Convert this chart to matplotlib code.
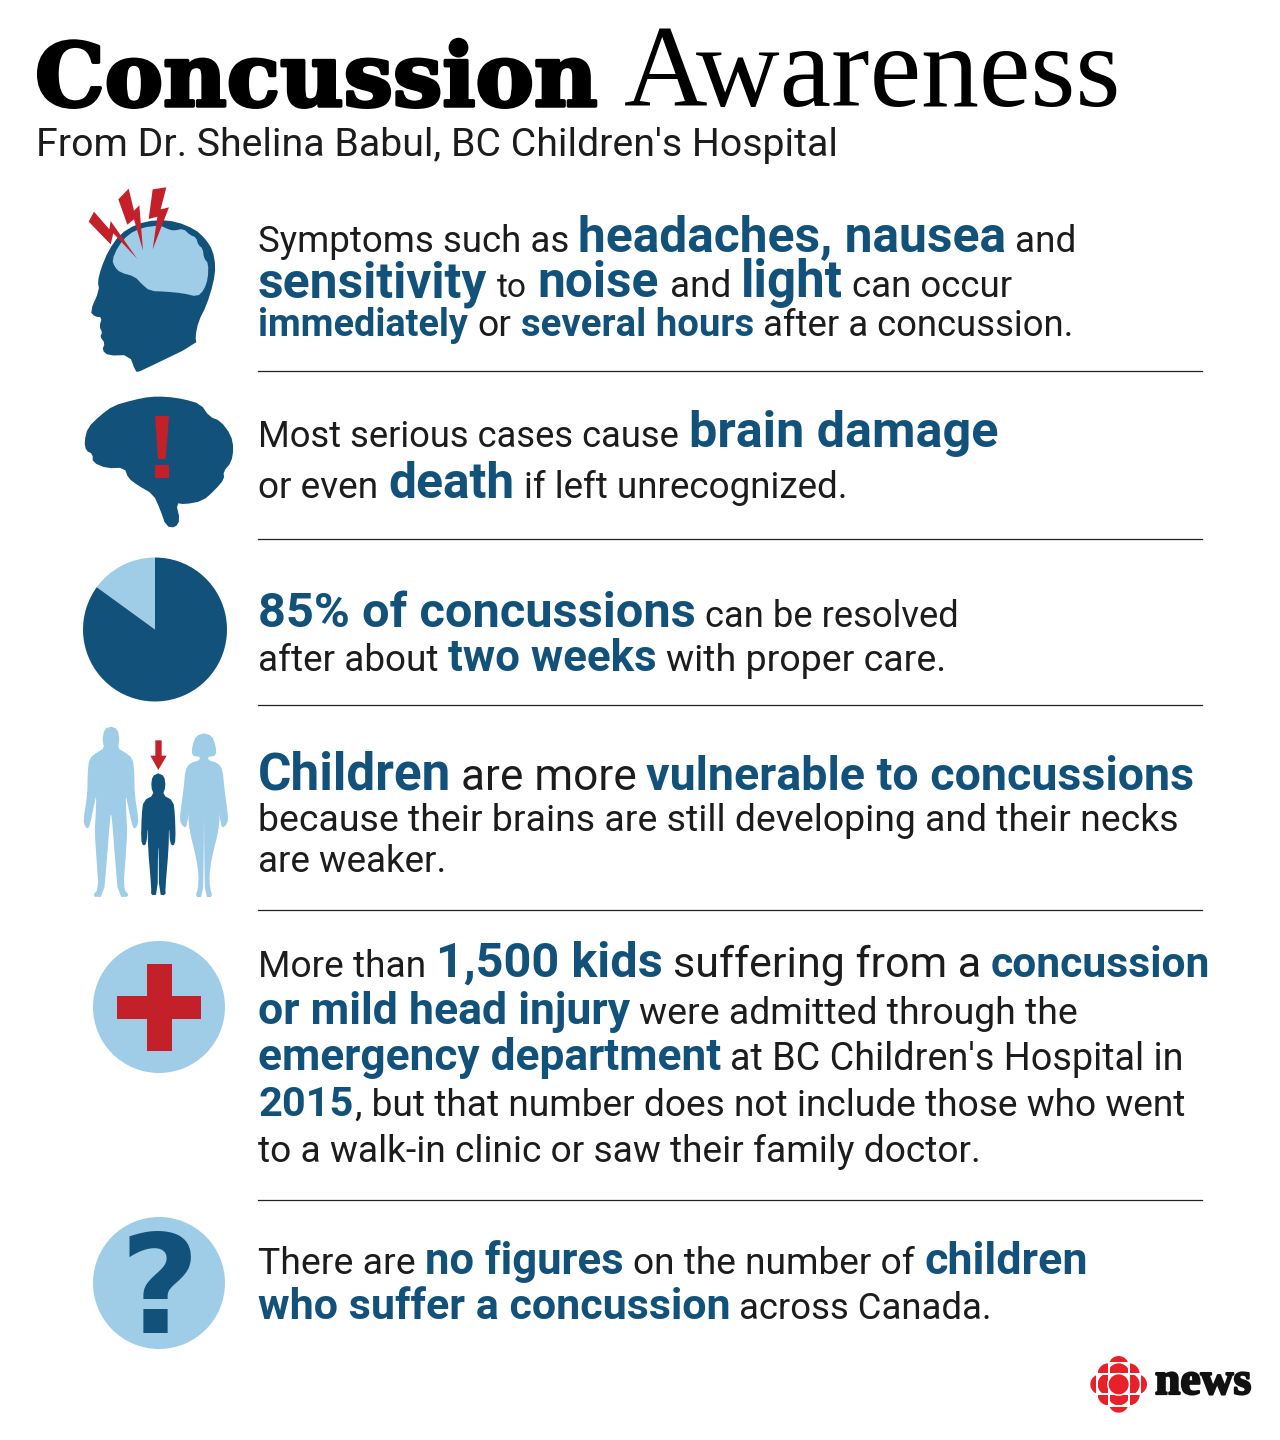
import matplotlib
matplotlib.use("Agg")
import matplotlib.pyplot as plt
import matplotlib.patheffects as pe
import numpy as np
from matplotlib.patches import Circle, Polygon, Rectangle

BLUE = "#12527a"
LIGHT = "#9fcde8"
RED = "#c4202a"
INK = "#1c1c1c"
GEM_RED = "#e8202a"

# text, one list per line
line_texts = [
    ["Symptoms such as", "headaches, nausea", "and"],
    ["sensitivity", "to", "noise", "and", "light", "can occur"],
    ["immediately", "or", "several hours", "after a concussion."],
    ["Most serious cases cause", "brain damage"],
    ["or even", "death", "if left unrecognized."],
    ["85% of concussions", "can be resolved"],
    ["after about", "two weeks", "with proper care."],
    ["Children", "are more", "vulnerable to concussions"],
    ["because their brains are still developing and their necks"],
    ["are weaker."],
    ["More than", "1,500 kids", "suffering from a", "concussion"],
    ["or mild head injury", "were admitted through the"],
    ["emergency department", "at BC Children's Hospital in"],
    ["2015", ", but that number does not include those who went"],
    ["to a walk-in clinic or saw their family doctor."],
    ["There are", "no figures", "on the number of", "children"],
    ["who suffer a concussion", "across Canada."],
]
pie_shares = [15, 85]

# layout, same order as line_texts
line_bold = [
    [0, 1, 0], [1, 0, 1, 0, 1, 0], [1, 0, 1, 0], [0, 1], [0, 1, 0], [1, 0], [0, 1, 0],
    [1, 0, 1], [0], [0], [0, 1, 0, 1], [1, 0], [1, 0], [1, 0], [0], [0, 1, 0, 1], [1, 0],
]
line_base = [252, 297, 336, 447, 498, 627, 671, 790, 831, 872, 977, 1024, 1070, 1116, 1162, 1274, 1319]
line_spans = [
    [(258, 568), (578, 1005), (1015, 1076)],
    [(258, 487), (497, 527), (537, 658), (670, 731), (741, 843), (852, 1012)],
    [(258, 468), (477, 511), (521, 754), (763, 1073)],
    [(258, 679), (689, 997)],
    [(258, 378), (388, 514), (524, 847)],
    [(258, 695), (705, 958)],
    [(258, 438), (448, 656), (666, 945)],
    [(258, 451), (461, 636), (646, 1193)],
    [(258, 1175)],
    [(258, 446)],
    [(258, 426), (436, 662), (673, 981), (991, 1210)],
    [(258, 630), (639, 1076)],
    [(258, 721), (730, 1182)],
    [(258, 353), (355, 1184)],
    [(258, 980)],
    [(258, 415), (425, 623), (633, 915), (925, 1088)],
    [(258, 729), (739, 991)],
]
divider_y = [371, 539, 705, 910, 1200]

fig = plt.figure(figsize=(12.8, 14.4), dpi=100, facecolor="white")
ax = fig.add_axes([0, 0, 1, 1])
ax.set_xlim(0, 1280)
ax.set_ylim(1440, 0)
ax.axis("off")
renderer = fig.canvas.get_renderer()


# put text so that it fills x0..x1
def fit_text(s, x0, x1, y, **kw):
    t = ax.text(x0, y, s, va="baseline", ha="left", fontsize=20, **kw)
    w = t.get_window_extent(renderer).width
    t.set_fontsize(20 * (x1 - x0) / w)
    return t


def smooth(pts, rounds=2):
    pts = np.array(pts, dtype=float)
    for _ in range(rounds):
        nxt = np.roll(pts, -1, axis=0)
        pts = np.column_stack([0.75 * pts + 0.25 * nxt, 0.25 * pts + 0.75 * nxt]).reshape(-1, 2)
    return pts


def crop_pts(pts, ox, oy):
    return [(ox + x / 3, oy + y / 3) for x, y in pts]


def mirror(half, cx):
    return list(half) + [(2 * cx - x, y) for x, y in reversed(half)]


def shape(pts, color, rounds=0, z=2):
    if rounds:
        pts = smooth(pts, rounds)
    ax.add_patch(Polygon(pts, closed=True, fc=color, ec="none", zorder=z))


# title
fit_text("Concussion", 35, 598, 106, family="DejaVu Serif", weight="bold", color="black",
         path_effects=[pe.withStroke(linewidth=2.5, foreground="black")])
fit_text("Awareness", 624, 1121, 106, family="Liberation Serif", color="black")
fit_text("From Dr. Shelina Babul, BC Children's Hospital", 36, 836, 156, family="Roboto", color=INK)

# body lines
for texts, bolds, base, spans in zip(line_texts, line_bold, line_base, line_spans):
    for s, b, (x0, x1) in zip(texts, bolds, spans):
        if b:
            fit_text(s, x0, x1, base, family="Roboto", weight="bold", color=BLUE)
        else:
            fit_text(s, x0, x1, base, family="Roboto", color=INK)

for y in divider_y:
    ax.plot([258, 1202], [y, y], color="#222222", lw=0.9)

# head
head = [(205, 575), (212, 573), (380, 492), (376, 470), (385, 425), (410, 375), (430, 310), (437, 260),
        (428, 210), (405, 175), (375, 148), (320, 125), (260, 119), (200, 132), (150, 162), (115, 212),
        (93, 265), (83, 305), (88, 330), (60, 395), (75, 410), (96, 412), (88, 440), (97, 458), (90, 470),
        (105, 490), (96, 510), (115, 527), (178, 525), (197, 575)]
shape(crop_pts(head, 70, 180), BLUE, 1)
lobe = [(126, 240), (145, 198), (175, 163), (215, 143), (270, 136), (295, 148), (312, 152), (340, 146),
        (360, 165), (378, 172), (385, 195), (398, 205), (402, 235), (415, 250), (414, 295), (402, 330),
        (382, 350), (340, 340), (290, 335), (240, 333), (215, 312), (195, 290), (150, 277), (135, 262)]
shape(crop_pts(lobe, 70, 180), LIGHT, 1, 3)
bolts = [
    [(72, 95), (118, 148), (122, 123), (202, 237), (130, 160), (122, 193), (56, 125)],
    [(176, 26), (192, 92), (208, 76), (219, 212), (192, 118), (172, 134), (145, 58)],
    [(289, 22), (248, 28), (236, 117), (262, 110), (248, 208), (297, 82), (272, 88)],
]
for b in bolts:
    shape(crop_pts(b, 70, 180), RED, 0, 4)

# brain with exclamation mark
brain = [(43, 170), (53, 128), (90, 92), (130, 62), (190, 45), (240, 35), (290, 35), (340, 42), (392, 57),
         (418, 95), (452, 108), (483, 150), (491, 190), (484, 232), (460, 260), (463, 282), (435, 315),
         (398, 348), (345, 358), (318, 354), (330, 405), (316, 428), (288, 424), (270, 372), (250, 328),
         (205, 302), (175, 280), (163, 248), (110, 250), (68, 232), (68, 207), (48, 197)]
shape(crop_pts(brain, 70, 385), BLUE, 1)
shape(crop_pts([(255, 93), (297, 93), (287, 222), (264, 222)], 70, 385), RED, 0, 3)
shape(crop_pts([(254, 240), (296, 240), (296, 278), (254, 278)], 70, 385), RED, 0, 3)

# pie
pie_ax = fig.add_axes([(155 - 72) / 1280, 1 - (629.5 + 72) / 1440, 144 / 1280, 144 / 1440])
pie_ax.pie(pie_shares, colors=[LIGHT, BLUE], startangle=90, radius=1)
pie_ax.set_xlim(-1, 1)
pie_ax.set_ylim(-1, 1)

# people
man = [(123, 35), (143, 42), (149, 75), (143, 100), (165, 112), (188, 130), (193, 170), (194, 240),
       (206, 315), (201, 335), (192, 342), (185, 325), (172, 262), (167, 240), (169, 300), (172, 350),
       (166, 440), (160, 520), (180, 545), (145, 546), (135, 430), (125, 300)]
child = [(265, 175), (283, 183), (287, 215), (278, 240), (310, 257), (315, 300), (317, 375), (311, 393),
         (300, 386), (297, 330), (296, 400), (286, 520), (287, 541), (267, 539), (266, 400)]
woman = [(402, 55), (426, 62), (438, 95), (438, 123), (415, 125), (414, 135), (445, 145), (458, 165),
         (463, 220), (474, 300), (473, 325), (456, 341), (450, 310), (440, 245), (450, 300), (445, 350),
         (425, 430), (418, 480), (420, 520), (428, 546), (405, 546), (403, 430), (402, 310)]
shape(crop_pts(mirror(man, 123), 70, 715), LIGHT, 1)
shape(crop_pts(mirror(woman, 402), 70, 715), LIGHT, 1)
shape(crop_pts(mirror(child, 265), 70, 715), BLUE, 1)
arrow = [(256, 76), (275, 76), (275, 122), (290, 122), (265, 165), (241, 122), (256, 122)]
shape(crop_pts(arrow, 70, 715), RED)

# cross and question mark
ax.add_patch(Circle((159, 1007), 66, fc=LIGHT, ec="none"))
ax.add_patch(Rectangle((116.5, 995.5), 84.5, 23, fc=RED, ec="none", zorder=3))
ax.add_patch(Rectangle((146.5, 963.5), 25, 87, fc=RED, ec="none", zorder=3))
ax.add_patch(Circle((159, 1283), 66, fc=LIGHT, ec="none"))
ax.text(159, 1333, "?", family="DejaVu Sans", weight="bold", color=BLUE, fontsize=99, ha="center", va="baseline", zorder=3)


# cbc gem, one circle cut by one rectangle per piece
def piece(cx, cy, r, x0, y0, x1, y1):
    c = Circle(crop_pts([(cx, cy)], 1080, 1345)[0], r / 3, fc=GEM_RED, ec="none", zorder=3)
    ax.add_patch(c)
    box = Rectangle((1080 + x0 / 3, 1345 + y0 / 3), (x1 - x0) / 3, (y1 - y0) / 3, transform=ax.transData)
    c.set_clip_path(box)


gx, gy = 116, 118
for sx, sy in [(1, 1), (1, -1), (-1, 1), (-1, -1)]:
    xs = sorted([gx + sx * 33, gx + sx * 63])
    ys = sorted([gy + sy * 33, gy + sy * 63])
    piece(gx + sx * 31, gy + sy * 31, 32, xs[0], ys[0], xs[1], ys[1])
for dx, dy in [(0, -1), (0, 1), (-1, 0), (1, 0)]:
    # outer cap
    if dx == 0:
        ya, yb = sorted([gy + dy * 68, gy + dy * 86])
        piece(gx, gy + dy * 55, 30, gx - 30, ya, gx + 30, yb)
        ya, yb = sorted([gy + dy * 33, gy + dy * 63])
        piece(gx, gy + dy * 30, 33, gx - 27, ya, gx + 27, yb)
    else:
        xa, xb = sorted([gx + dx * 68, gx + dx * 86])
        piece(gx + dx * 55, gy, 30, xa, gy - 30, xb, gy + 30)
        xa, xb = sorted([gx + dx * 33, gx + dx * 63])
        piece(gx + dx * 30, gy, 33, xa, gy - 27, xb, gy + 27)
ax.add_patch(Circle(crop_pts([(gx, gy)], 1080, 1345)[0], 11.5, fc="white", ec="none", zorder=4))
ax.add_patch(Circle(crop_pts([(gx, gy)], 1080, 1345)[0], 10, fc=GEM_RED, ec="none", zorder=5))

fit_text("news", 1155, 1251, 1394, family="Liberation Serif", weight="bold", color="#111111",
         path_effects=[pe.withStroke(linewidth=1.6, foreground="#111111")])

fig.savefig("out.png", dpi=100, facecolor="white")
